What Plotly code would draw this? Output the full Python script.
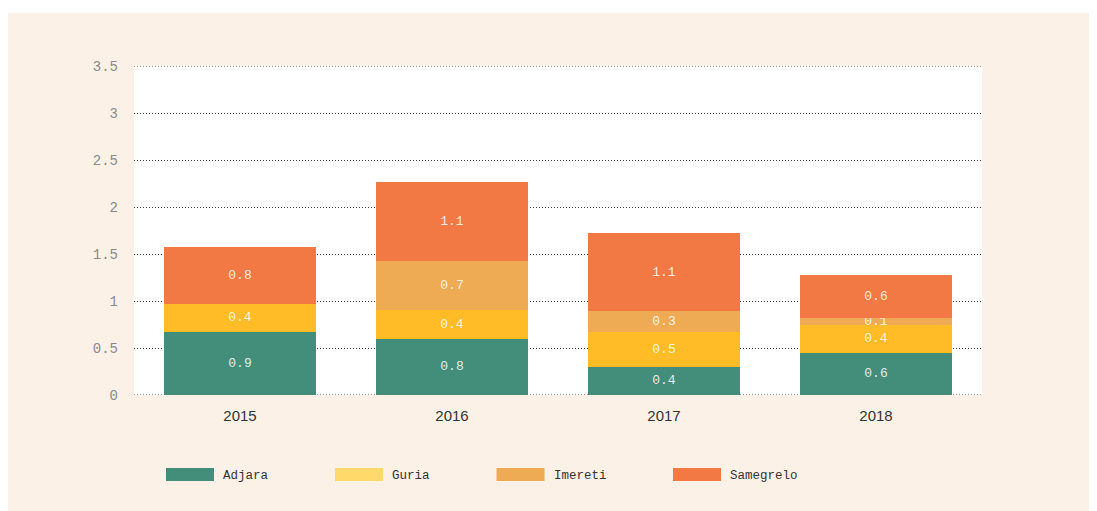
import plotly.graph_objects as go

years = ["2015", "2016", "2017", "2018"]
series = ["Adjara", "Guria", "Imereti", "Samegrelo"]
heights = {
    "Adjara":    [0.67, 0.60, 0.30, 0.45],
    "Guria":     [0.30, 0.30, 0.37, 0.30],
    "Imereti":   [0.00, 0.53, 0.22, 0.07],
    "Samegrelo": [0.60, 0.84, 0.83, 0.46],
}
labels = {
    "Adjara":    ["0.9", "0.8", "0.4", "0.6"],
    "Guria":     ["0.4", "0.4", "0.5", "0.4"],
    "Imereti":   ["", "0.7", "0.3", "0.1"],
    "Samegrelo": ["0.8", "1.1", "1.1", "0.6"],
}
bar_colors = {"Adjara": "#438E7A", "Guria": "#FFBC27", "Imereti": "#EEAB53", "Samegrelo": "#F27944"}
legend_colors = {"Adjara": "#438E7A", "Guria": "#FFD96A", "Imereti": "#EEAB53", "Samegrelo": "#F27944"}
y_ticks = [0, 0.5, 1, 1.5, 2, 2.5, 3, 3.5]
y_ticktext = ["0", "0.5", "1", "1.5", "2", "2.5", "3", "3.5"]

OFF = 8  # page body margin
W, H = 1097 - OFF, 511 - OFF
L, R, T, B = 134 - OFF, 1097 - 982, 66 - OFF, 511 - 395
pw, ph = W - L - R, H - T - B

def px_x(p):
    return (p - OFF - L) / pw

def px_y(p):
    return (H - B - (p - OFF)) / ph

fig = go.Figure()
for s in series:
    fig.add_trace(go.Bar(
        x=years, y=heights[s], name=s, text=labels[s],
        marker=dict(color=bar_colors[s], line=dict(width=0)),
        textposition="inside", insidetextanchor="middle",
        textfont=dict(family="Liberation Mono", size=13, color="rgba(255,255,255,0.86)"),
        showlegend=False, hoverinfo="skip",
    ))

grid_dash = "1px,2px"
shapes = [
    # white strip above the cream panel
    dict(type="rect", xref="paper", yref="paper", layer="below",
         x0=px_x(0), x1=px_x(1100), y0=px_y(13), y1=px_y(0),
         fillcolor="white", line=dict(width=0)),
]
# boundary gridlines (0 and 3.5) that plotly clips at the plot edges
for v in (y_ticks[0], y_ticks[-1]):
    shapes.append(dict(type="line", xref="paper", yref="y", layer="below",
                       x0=0, x1=1, y0=v, y1=v,
                       line=dict(color="#444444", width=1, dash=grid_dash)))
annotations = []
x = 166
for s in series:
    shapes.append(dict(type="rect", xref="paper", yref="paper",
                       x0=px_x(x), x1=px_x(x + 48), y0=px_y(481), y1=px_y(468),
                       fillcolor=legend_colors[s], line=dict(width=0)))
    annotations.append(dict(text=s, xref="paper", yref="paper", x=px_x(x + 55), y=px_y(475.5),
                            xanchor="left", yanchor="middle", showarrow=False,
                            font=dict(family="Liberation Mono", size=12.5, color="#333333")))
    x = x + 48 + 7 + len(s) * 7.5 + 69

fig.update_layout(
    width=W, height=H,
    margin=dict(l=L, r=R, t=T, b=B),
    barmode="stack", bargap=0.28,
    paper_bgcolor="#FCF1E6", plot_bgcolor="white",
    shapes=shapes, annotations=annotations,
    uniformtext=dict(minsize=13, mode="show"),
    showlegend=False,
)
fig.update_xaxes(
    showgrid=False, zeroline=False, showline=False, ticks="",
    tickfont=dict(family="Liberation Sans", size=15, color="#333333"),
    ticklabelstandoff=10,
)
fig.update_yaxes(
    range=[0, 3.5], tickvals=y_ticks, ticktext=y_ticktext,
    showgrid=True, gridcolor="#444444", gridwidth=1, griddash=grid_dash,
    zeroline=False, showline=False, ticks="",
    tickfont=dict(family="Liberation Mono", size=14, color="#8A8A8A"),
    ticklabelstandoff=15,
)

fig.write_html("out.html")
